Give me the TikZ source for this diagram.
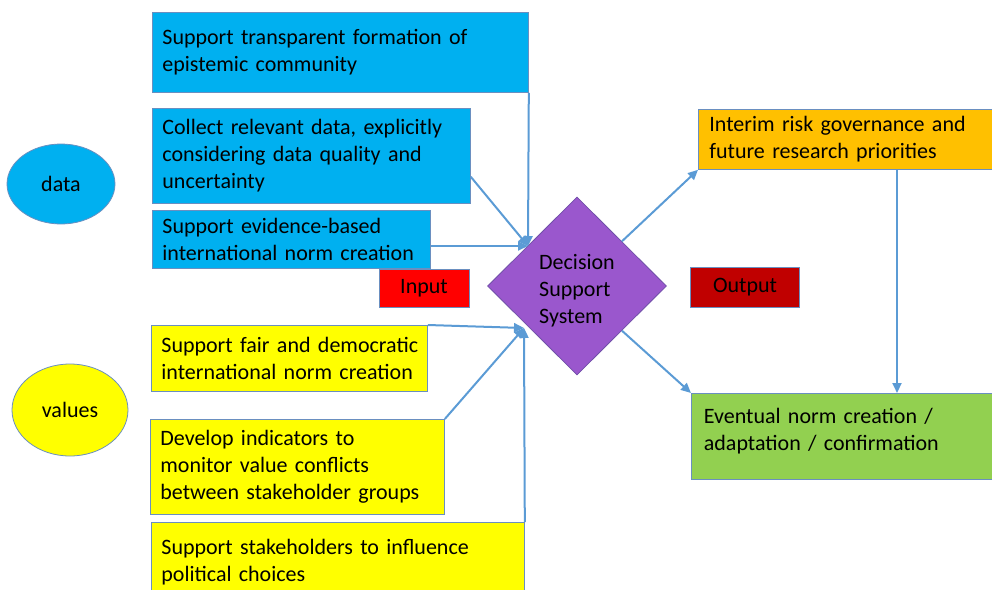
\documentclass[tikz,border=0pt]{standalone}
\usepackage{fontspec}
\setmainfont{Carlito}
\usetikzlibrary{shapes.geometric,arrows.meta,calc}
\hyphenpenalty=10000
\exhyphenpenalty=10000
\definecolor{boxblue}{HTML}{00B0F0}
\definecolor{boxyellow}{HTML}{FFFF00}
\definecolor{boxorange}{HTML}{FFC000}
\definecolor{boxgreen}{HTML}{92D050}
\definecolor{boxred}{HTML}{FF0000}
\definecolor{boxdarkred}{HTML}{C00000}
\definecolor{purp}{HTML}{9A57CD}
\definecolor{purpedge}{HTML}{7050A8}
\definecolor{edge}{HTML}{6A8FC0}
\definecolor{arrowc}{HTML}{5B9BD5}
\begin{document}
\begin{tikzpicture}[x=1pt,y=-1pt,
  every node/.style={font=\fontsize{22}{27}\selectfont, text=black},
  tbox/.style={draw=edge, line width=0.8pt, anchor=north west, inner xsep=10pt, inner ysep=0pt, align=left},
  cbox/.style={draw=edge, line width=0.8pt, inner sep=0pt, align=center},
  oval/.style={ellipse, draw=edge, line width=0.8pt, inner sep=0pt},
  arr/.style={draw=arrowc, line width=2pt, -{Triangle[length=10pt,width=9pt]}},
]
\useasboundingbox (0,0) rectangle (992,589);
\clip (0,0) rectangle (992,589);

% ellipses
\node[oval, fill=boxblue, minimum width=108pt, minimum height=80pt] (data) at (61,184) {data};
\node[oval, fill=boxyellow, minimum width=116pt, minimum height=92pt] (values) at (70,410) {values};

% blue input boxes
\node[tbox, fill=boxblue, minimum width=376pt, minimum height=80pt, text width=356pt] (b1) at (152,12)
  {Support transparent formation of\\epistemic community};
\node[tbox, fill=boxblue, minimum width=318pt, minimum height=95pt, text width=298pt] (b2) at (152,108)
  {Collect relevant data, explicitly\\considering data quality and\\uncertainty};
\node[tbox, fill=boxblue, minimum width=278pt, minimum height=58pt, text width=258pt] (b3) at (152,210)
  {Support evidence-based\\international norm creation};

% yellow input boxes
\node[tbox, fill=boxyellow, minimum width=276pt, minimum height=66pt, text width=262pt, inner xsep=7pt] (y1) at (151,325)
  {\hspace*{3pt}Support fair and democratic\\\hspace*{3pt}international norm creation};
\node[tbox, fill=boxyellow, minimum width=294pt, minimum height=95pt, text width=274pt] (y2) at (150,419)
  {Develop indicators to\\monitor value conflicts\\between stakeholder groups};
\node[tbox, fill=boxyellow, minimum width=373pt, minimum height=80pt, text width=353pt] (y3) at (151,522)
  {Support stakeholders to influence\\political choices};

% labels
\node[cbox, fill=boxred, minimum width=90pt, minimum height=38pt] (inp) at (424,288) {Input};
\node[cbox, fill=boxdarkred, minimum width=109pt, minimum height=40pt] (outp) at (745,287) {Output};

% output boxes
\node[tbox, fill=boxorange, minimum width=300pt, minimum height=60pt, text width=278pt, inner xsep=11pt] (org) at (698,109)
  {Interim risk governance and\\future research priorities};
\node[tbox, fill=boxgreen, minimum width=305pt, minimum height=86pt, text width=280pt, inner xsep=12.5pt] (grn) at (691,393)
  {Eventual norm creation /\\adaptation / confirmation\par\vspace*{10pt}};

% decision support system
\node[diamond, fill=purp, draw=purpedge, line width=0.8pt, minimum width=179pt, minimum height=178pt, inner sep=0pt] (dss) at (577,286) {};
\node[align=left, inner sep=0pt] (dsstext) at (577,291) {Decision\\Support\\System};

% convergence points
\coordinate (in1) at (528,246);
\coordinate (in2) at (524,328);

% input connectors
\draw[arr] (b1.south east) -- (in1);
\draw[arr] ($(b2.south east)+(0,-27)$) -- (in1);
\draw[arr] (b3.east |- in1) -- (in1);
\draw[arr] (y1.north east) -- (in2);
\draw[arr] (y2.north east) -- (in2);
\draw[arr] (y3.north east) -- (in2);

% output connectors
\draw[arr] (dss.north east) -- (org.south west);
\draw[arr] (dss.south east) -- (grn.north west);
\draw[arr] ($(org.south west)+(199,0)$) -- ($(grn.north west)+(206,0)$);
\end{tikzpicture}
\end{document}
